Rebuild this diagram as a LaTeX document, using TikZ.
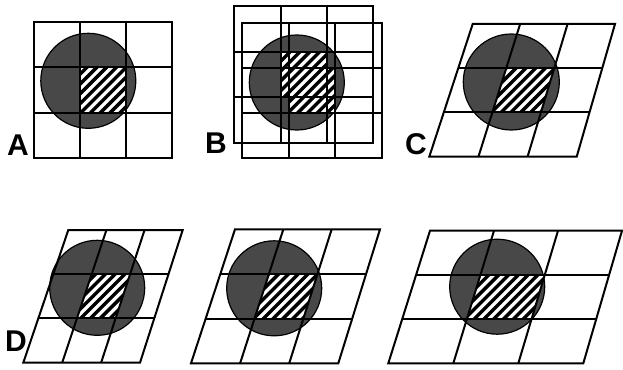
\documentclass[tikz,border=0pt]{standalone}
\usepackage{fontspec}
\setmainfont{Liberation Sans}
\usetikzlibrary{calc}
\definecolor{circgray}{RGB}{72,72,72}
\tikzset{
  gridline/.style={line width=2pt, line join=miter},
  disc/.style={fill=circgray, draw=black, line width=1.2pt},
  stripe/.style={line width=3.4pt},
  panellabel/.style={font=\bfseries\fontsize{30}{30}\selectfont, anchor=base west, inner sep=0pt}
}
\newcommand{\mkgrid}[5]{%
  \coordinate (#1-TL) at #2; \coordinate (#1-TR) at #3;
  \coordinate (#1-BR) at #4; \coordinate (#1-BL) at #5;
  \foreach \j in {0,1,2,3}{
    \coordinate (#1-L\j) at ($(#1-TL)!\j/3!(#1-BL)$);
    \coordinate (#1-R\j) at ($(#1-TR)!\j/3!(#1-BR)$);
  }
  \foreach \i in {0,1,2,3}{
    \foreach \j in {0,1,2,3}{
      \coordinate (#1-\i\j) at ($(#1-L\j)!\i/3!(#1-R\j)$);
    }
  }
}
\newcommand{\drawgrid}[1]{%
  \draw[gridline] (#1-TL) -- (#1-TR) -- (#1-BR) -- (#1-BL) -- cycle;
  \foreach \k in {1,2}{
    \draw[gridline] (#1-\k0) -- (#1-\k3);
    \draw[gridline] (#1-0\k) -- (#1-3\k);
  }
}
\newcommand{\stripes}[2]{%
  \fill[white] ({#1-80},{#2-80}) rectangle ({#1+80},{#2+80});
  \foreach \k in {-14,...,14}{
    \draw[stripe] ({#1+\k*9.8-80},{#2+80}) -- ++(160,-160);
  }
}
\begin{document}
\begin{tikzpicture}[x=1pt,y=-1pt]
\useasboundingbox[fill=white] (0,0) rectangle (623,369);

% ---------- A ----------
\mkgrid{A}{(34,22)}{(172,22)}{(172,158)}{(34,158)}
\fill[disc] (88.3,80.8) circle (47.5);
\begin{scope}
  \clip (A-11) -- (A-21) -- (A-22) -- (A-12) -- cycle;
  \stripes{103}{90.5}
\end{scope}
\drawgrid{A}
\node[panellabel] (labA) at (7,155) {A};

% ---------- B ----------
\mkgrid{B1}{(234.3,5.7)}{(373.3,5.7)}{(373.3,143.3)}{(234.3,143.3)}
\mkgrid{B2}{(242.3,23.3)}{(381.7,23.3)}{(381.7,158.3)}{(242.3,158.3)}
\fill[disc] (296.8,82.5) circle (47.5);
\begin{scope}
  \clip (B1-11) rectangle (B1-22) (B2-11) rectangle (B2-22);
  \stripes{308}{83}
\end{scope}
\drawgrid{B1}
\drawgrid{B2}
\node[panellabel] (labB) at (205,153) {B};

% ---------- C ----------
\mkgrid{C}{(472.7,24)}{(615,24)}{(576.7,156.7)}{(429.3,156.7)}
\fill[disc] (511.3,82) circle (48);
\begin{scope}
  \clip (C-11) -- (C-21) -- (C-22) -- (C-12) -- cycle;
  \stripes{523}{90.5}
\end{scope}
\drawgrid{C}
\node[panellabel] (labC) at (405,154) {C};

% ---------- D ----------
\mkgrid{D}{(68.3,230)}{(182.7,230)}{(140,362.7)}{(23.3,362.7)}
\fill[disc] (97.2,287.8) circle (47.5);
\begin{scope}
  \clip (D-11) -- (D-21) -- (D-22) -- (D-12) -- cycle;
  \stripes{103}{296}
\end{scope}
\drawgrid{D}
\node[panellabel] (labD) at (5,351.7) {D};

% ---------- E ----------
\mkgrid{E}{(235,229.3)}{(380,229.3)}{(338.3,363.3)}{(191,363.3)}
\fill[disc] (274.2,288.3) circle (47.5);
\begin{scope}
  \clip (E-11) -- (E-21) -- (E-22) -- (E-12) -- cycle;
  \stripes{286}{296}
\end{scope}
\drawgrid{E}

% ---------- F ----------
\mkgrid{F}{(430,230.7)}{(622,230.7)}{(583.3,363.3)}{(388.3,363.3)}
\fill[disc] (497.2,286.7) circle (47.5);
\begin{scope}
  \clip (F-11) -- (F-21) -- (F-22) -- (F-12) -- cycle;
  \stripes{506}{297}
\end{scope}
\drawgrid{F}
\end{tikzpicture}
\end{document}
